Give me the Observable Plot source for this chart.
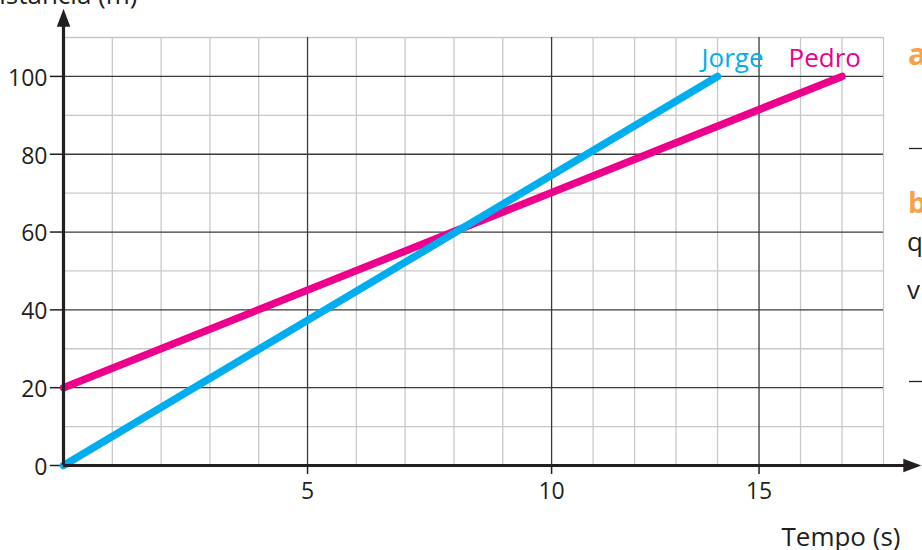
<!DOCTYPE html>
<html><head><meta charset="utf-8">
<script src="https://cdn.jsdelivr.net/npm/d3@7"></script>
<script src="https://cdn.jsdelivr.net/npm/@observablehq/plot@0.6"></script>
<style>
html,body{margin:0;padding:0;background:#fff;overflow:hidden;}
#wrap{position:relative;width:922px;height:550px;overflow:hidden;font-family:"Open Sans",sans-serif;}
#wrap svg{display:block;}
#frag{position:absolute;left:0;top:0;}
</style></head><body><div id="wrap"></div>
<script>
// ---- data ----
const seriesNames = ["Jorge", "Pedro"];
const jorgeTime = [0, 14];
const jorgeDist = [0, 100];
const pedroTime = [0, 17];
const pedroDist = [20, 100];
const xTickValues = [5, 10, 15];
const yTickValues = [0, 20, 40, 60, 80, 100];
const xMinorGrid = [1, 2, 3, 4, 6, 7, 8, 9, 11, 12, 13, 14, 16, 17, 18];
const yMinorGrid = [10, 30, 50, 70, 90, 110];
const yMajorGrid = [20, 40, 60, 80, 100];
const xLabel = "Tempo (s)";
const yLabel = "Distância (m)";

const BLUE = "#00aeef", PINK = "#ec008c", INK = "#231f20";

// the printed grid is slightly compressed beyond t = 10
const squeeze = 0.85;
const warp = t => (t <= 10 ? t : 10 + (t - 10) * squeeze);

const rows = [
  ...jorgeTime.map((t, i) => ({series: seriesNames[0], t, d: jorgeDist[i]})),
  ...pedroTime.map((t, i) => ({series: seriesNames[1], t, d: pedroDist[i]}))
];
const ends = [
  {series: seriesNames[0], t: jorgeTime[jorgeTime.length - 1], d: jorgeDist[jorgeDist.length - 1]},
  {series: seriesNames[1], t: pedroTime[pedroTime.length - 1], d: pedroDist[pedroDist.length - 1]}
];

const arrowSymbol = {
  draw(ctx, size) {
    const r = Math.sqrt(size / Math.PI);
    ctx.moveTo(0, -1.3 * r);
    ctx.lineTo(0.75 * r, 0.7 * r);
    ctx.lineTo(-0.75 * r, 0.7 * r);
    ctx.closePath();
  }
};

const chart = Plot.plot({
  width: 922,
  height: 550,
  marginLeft: 63,
  marginRight: 39,
  marginTop: 37,
  marginBottom: 85,
  style: {fontFamily: "'Open Sans', sans-serif", background: "transparent", overflow: "visible"},
  x: {type: "linear", transform: warp, domain: [0, warp(18)], axis: null},
  y: {domain: [0, 110], axis: null},
  marks: [
    Plot.ruleX(xMinorGrid, {x: d => d, y1: 0, y2: 110, stroke: "#c8c8c8", strokeWidth: 1.3}),
    Plot.ruleY(yMinorGrid, {y: d => d, x1: 0, x2: 18, stroke: "#c8c8c8", strokeWidth: 1.3}),
    Plot.ruleX(xTickValues, {x: d => d, y1: 0, y2: 110, stroke: "#3a3a3a", strokeWidth: 1.3}),
    Plot.ruleY(yMajorGrid, {y: d => d, x1: 0, x2: 18, stroke: "#3a3a3a", strokeWidth: 1.3}),
    // tick marks and labels
    Plot.ruleX(xTickValues, {x: d => d, y1: -2.3, y2: 0, stroke: INK, strokeWidth: 1.5}),
    Plot.ruleY(yTickValues, {y: d => d, x1: -0.27, x2: 0, stroke: INK, strokeWidth: 1.5}),
    Plot.text(xTickValues, {x: d => d, y: 0, text: d => `${d}`, fill: INK, fontSize: 23, lineAnchor: "bottom", dy: 33}),
    Plot.text(yTickValues, {x: 0, y: d => d, text: d => `${d}`, fill: INK, fontSize: 23, textAnchor: "end", dx: -16, dy: 2}),
    // series
    Plot.line(rows.filter(r => r.series === seriesNames[1]), {x: "t", y: "d", stroke: PINK, strokeWidth: 7.5, strokeLinecap: "round"}),
    Plot.line(rows.filter(r => r.series === seriesNames[0]), {x: "t", y: "d", stroke: BLUE, strokeWidth: 7.5, strokeLinecap: "round"}),
    // axis lines with arrowheads
    Plot.ruleY([0], {y: d => d, x1: 0, x2: 18.6, stroke: INK, strokeWidth: 3.2}),
    Plot.ruleX([0], {x: d => d, y1: 0, y2: 114, stroke: INK, strokeWidth: 3.2}),
    Plot.dot([{x: 0, y: 114.4}], {x: "x", y: "y", symbol: arrowSymbol, r: 9, fill: INK, stroke: null}),
    Plot.dot([{x: 18.63, y: 0}], {x: "x", y: "y", symbol: arrowSymbol, r: 9, fill: INK, stroke: null, rotate: 90}),
    // labels
    Plot.text([ends[0]], {x: "t", y: "d", text: "series", fill: BLUE, fontSize: 26, textAnchor: "end", lineAnchor: "bottom", dx: 46, dy: -9}),
    Plot.text([ends[1]], {x: "t", y: "d", text: "series", fill: PINK, fontSize: 26, textAnchor: "end", lineAnchor: "bottom", dx: 19, dy: -9}),
    Plot.text([xLabel], {frameAnchor: "bottom-right", text: d => d, fill: INK, fontSize: 26, textAnchor: "end", lineAnchor: "bottom", dx: 17, dy: 80}),
    Plot.text([yLabel], {frameAnchor: "top-left", text: d => d, fill: INK, fontSize: 26, textAnchor: "end", lineAnchor: "bottom", dx: 74, dy: -34})
  ]
});
const wrap = document.getElementById("wrap");
wrap.appendChild(chart);

// cropped page fragments at the right edge
const ns = "http://www.w3.org/2000/svg";
const frag = document.createElementNS(ns, "svg");
frag.setAttribute("id", "frag");
frag.setAttribute("width", 922);
frag.setAttribute("height", 550);
frag.innerHTML = `
  <g font-family="'Open Sans', sans-serif">
    <text x="908" y="65" font-size="31" font-weight="bold" fill="#f7a24b">a</text>
    <line x1="909" x2="922" y1="148.5" y2="148.5" stroke="${INK}" stroke-width="1.3"/>
    <text x="908" y="213" font-size="29" font-weight="bold" fill="#f7a24b">b</text>
    <text x="907" y="251" font-size="26" fill="${INK}">q</text>
    <text x="907" y="299" font-size="26" fill="${INK}">v</text>
    <line x1="909" x2="922" y1="381.5" y2="381.5" stroke="${INK}" stroke-width="1.3"/>
  </g>`;
wrap.appendChild(frag);
</script>
</body></html>
